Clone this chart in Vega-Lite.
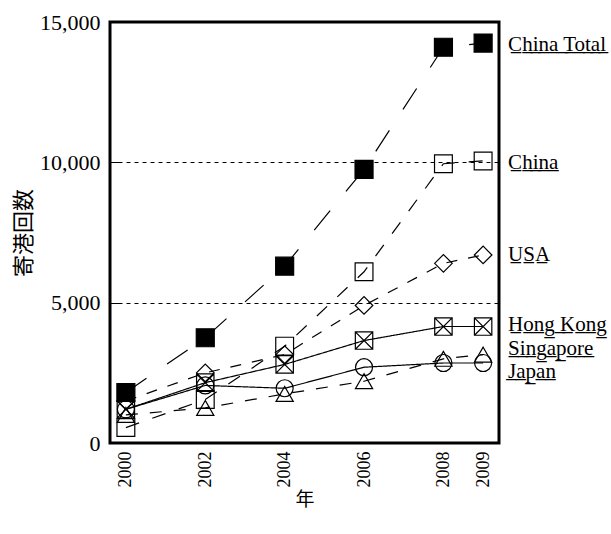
{
  "$schema": "https://vega.github.io/schema/vega-lite/v6.json",
  "width": 389,
  "height": 421,
  "autosize": "none",
  "padding": {"left": 110, "top": 22, "right": 112, "bottom": 91},
  "background": "white",
  "config": {
    "view": {"stroke": "black", "strokeWidth": 3},
    "font": "Liberation Serif"
  },
  "datasets": {
    "series": [
      {"name": "China Total", "year": 2000, "value": 1800},
      {"name": "China Total", "year": 2002, "value": 3750},
      {"name": "China Total", "year": 2004, "value": 6300},
      {"name": "China Total", "year": 2006, "value": 9750},
      {"name": "China Total", "year": 2008, "value": 14100},
      {"name": "China Total", "year": 2009, "value": 14250},
      {"name": "China", "year": 2000, "value": 550},
      {"name": "China", "year": 2002, "value": 1550},
      {"name": "China", "year": 2004, "value": 3450},
      {"name": "China", "year": 2006, "value": 6100},
      {"name": "China", "year": 2008, "value": 9950},
      {"name": "China", "year": 2009, "value": 10050},
      {"name": "USA", "year": 2000, "value": 1500},
      {"name": "USA", "year": 2002, "value": 2500},
      {"name": "USA", "year": 2004, "value": 3150},
      {"name": "USA", "year": 2006, "value": 4900},
      {"name": "USA", "year": 2008, "value": 6400},
      {"name": "USA", "year": 2009, "value": 6700},
      {"name": "Hong Kong", "year": 2000, "value": 1200},
      {"name": "Hong Kong", "year": 2002, "value": 2150},
      {"name": "Hong Kong", "year": 2004, "value": 2800},
      {"name": "Hong Kong", "year": 2006, "value": 3650},
      {"name": "Hong Kong", "year": 2008, "value": 4150},
      {"name": "Hong Kong", "year": 2009, "value": 4150},
      {"name": "Singapore", "year": 2000, "value": 1000},
      {"name": "Singapore", "year": 2002, "value": 1250},
      {"name": "Singapore", "year": 2004, "value": 1750},
      {"name": "Singapore", "year": 2006, "value": 2200},
      {"name": "Singapore", "year": 2008, "value": 3000},
      {"name": "Singapore", "year": 2009, "value": 3150},
      {"name": "Japan", "year": 2000, "value": 1200},
      {"name": "Japan", "year": 2002, "value": 2050},
      {"name": "Japan", "year": 2004, "value": 1950},
      {"name": "Japan", "year": 2006, "value": 2700},
      {"name": "Japan", "year": 2008, "value": 2850},
      {"name": "Japan", "year": 2009, "value": 2850}
    ],
    "labels": [
      {"name": "China Total", "label": "C̲h̲i̲n̲a̲ ̲T̲o̲t̲a̲l̲", "labelY": 14180},
      {"name": "China", "label": "C̲h̲i̲n̲a̲", "labelY": 9980},
      {"name": "USA", "label": "U̲S̲A̲", "labelY": 6700},
      {"name": "Hong Kong", "label": "H̲o̲n̲g̲ ̲K̲o̲n̲g̲", "labelY": 4200},
      {"name": "Singapore", "label": "S̲i̲n̲g̲a̲p̲o̲r̲e̲", "labelY": 3350},
      {"name": "Japan", "label": "J̲a̲p̲a̲n̲", "labelY": 2530}
    ]
  },
  "layer": [
    {
      "data": {"name": "series"},
      "mark": {"type": "line", "color": "black"},
      "encoding": {
        "x": {
          "field": "year", "type": "quantitative",
          "scale": {"domain": [1999.6, 2009.4], "nice": false, "zero": false},
          "axis": {
            "values": [2000, 2002, 2004, 2006, 2008, 2009],
            "format": "d",
            "labelAngle": 270,
            "labelFont": "Liberation Serif",
            "labelFontSize": 18,
            "labelColor": "black",
            "labelPadding": 8,
            "ticks": false,
            "domain": false,
            "grid": false,
            "title": "年",
            "titleFont": "Noto Sans CJK JP",
            "titleFontSize": 19,
            "titleFontWeight": "normal",
            "titleColor": "black",
            "titlePadding": 3
          }
        },
        "y": {
          "field": "value", "type": "quantitative",
          "scale": {"domain": [0, 15000], "nice": false},
          "axis": {
            "values": [0, 5000, 10000, 15000],
            "format": ",d",
            "labelFont": "Liberation Serif",
            "labelFontSize": 22,
            "labelColor": "black",
            "tickSize": -10,
            "tickColor": "black",
            "tickWidth": 1,
            "labelPadding": 20,
            "domain": false,
            "grid": true,
            "gridColor": "black",
            "gridDash": [4, 4],
            "gridWidth": 1,
            "gridOpacity": 1,
            "title": "寄港回数",
            "titleFont": "Noto Sans CJK JP",
            "titleFontSize": 22,
            "titleFontWeight": "normal",
            "titleColor": "black",
            "titlePadding": 4
          }
        },
        "detail": {"field": "name"},
        "strokeDash": {
          "field": "name", "type": "nominal",
          "scale": {
            "domain": ["China Total", "China", "USA", "Hong Kong", "Singapore", "Japan"],
            "range": [[25, 25], [14, 14], [11, 11], [1, 0], [12, 12], [1, 0]]
          },
          "legend": null
        },
        "strokeWidth": {
          "field": "name", "type": "nominal",
          "scale": {
            "domain": ["China Total", "China", "USA", "Hong Kong", "Singapore", "Japan"],
            "range": [1.2, 1.2, 2.5, 1, 1, 2]
          },
          "legend": null
        }
      }
    },
    {
      "data": {"name": "series"},
      "mark": {"type": "point", "stroke": "black", "strokeWidth": 1.2, "opacity": 1},
      "encoding": {
        "x": {"field": "year", "type": "quantitative"},
        "y": {"field": "value", "type": "quantitative"},
        "shape": {
          "field": "name", "type": "nominal",
          "scale": {
            "domain": ["China Total", "China", "USA", "Hong Kong", "Singapore", "Japan"],
            "range": ["square", "square", "diamond", "M-1,-1L1,-1L1,1L-1,1ZM-1,-1L1,1M1,-1L-1,1", "triangle-up", "circle"]
          },
          "legend": null
        },
        "size": {
          "field": "name", "type": "nominal",
          "scale": {
            "domain": ["China Total", "China", "USA", "Hong Kong", "Singapore", "Japan"],
            "range": [324, 289, 529, 289, 320, 256]
          },
          "legend": null
        },
        "fill": {
          "field": "name", "type": "nominal",
          "scale": {
            "domain": ["China Total", "China", "USA", "Hong Kong", "Singapore", "Japan"],
            "range": ["black", "transparent", "transparent", "transparent", "transparent", "transparent"]
          },
          "legend": null
        }
      }
    },
    {
      "data": {"name": "labels"},
      "mark": {"type": "text", "align": "left", "baseline": "middle", "dx": 25, "font": "Liberation Serif", "fontSize": 21, "color": "black"},
      "encoding": {
        "x": {"datum": 2009, "type": "quantitative"},
        "y": {"field": "labelY", "type": "quantitative"},
        "text": {"field": "label"}
      }
    }
  ]
}
